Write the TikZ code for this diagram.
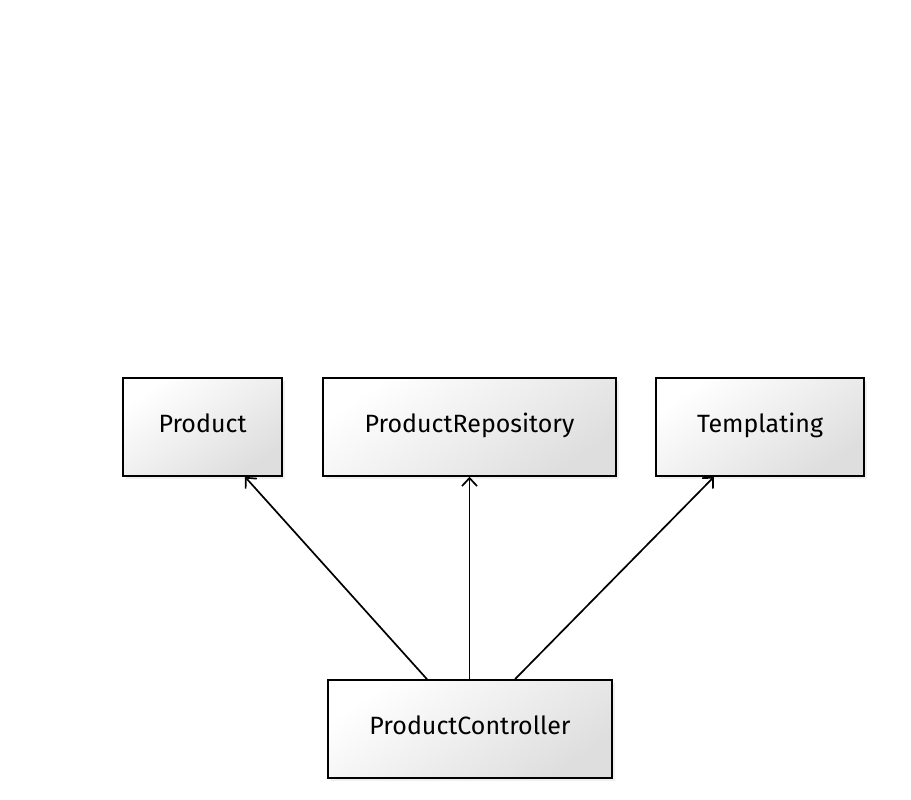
\documentclass[tikz,border=0pt]{standalone}
\usepackage{fontspec}
\setmainfont{Fira Sans}
\usetikzlibrary{arrows.meta,shadows}
\begin{document}
\begin{tikzpicture}[x=1pt,y=-1pt,
  box/.style={minimum height=98pt, inner sep=0pt, draw=black, line width=1.6pt,
    font=\fontsize{25}{30}\selectfont, text height=20pt, text depth=10pt,
    top color=white, bottom color=black!13, shading angle=35,
    drop shadow={opacity=0.12, shadow xshift=3pt, shadow yshift=-3pt}},
  arr/.style={draw=black, line width=1.7pt, -{Straight Barb[length=8pt,width=15pt,line width=1.7pt]}}]
\useasboundingbox (0,0) rectangle (911,800);
\node[box, minimum width=159pt] (product) at (202.5,427) {Product};
\node[box, minimum width=293pt] (repo) at (469.5,427) {ProductRepository};
\node[box, minimum width=208pt] (templ) at (760,427) {Templating};
\node[box, minimum width=284pt] (ctrl) at (470,729) {ProductController};
\draw[arr] ([xshift=-43pt]ctrl.north) -- ([xshift=42.5pt]product.south);
\draw[arr] ([xshift=-0.5pt]ctrl.north) -- (repo.south);
\draw[arr] ([xshift=45pt]ctrl.north) -- ([xshift=-46pt]templ.south);
\end{tikzpicture}
\end{document}
